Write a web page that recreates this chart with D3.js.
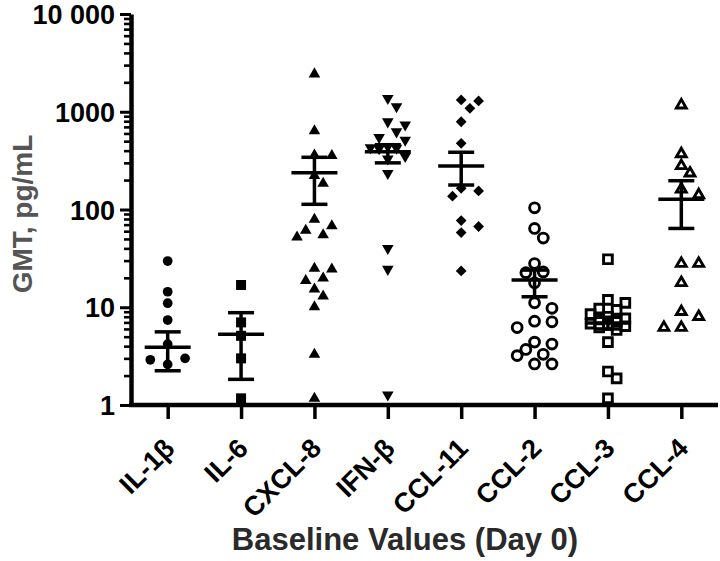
<!DOCTYPE html>
<html><head><meta charset="utf-8">
<script src="https://cdn.jsdelivr.net/npm/d3@7"></script>
<style>
html,body{margin:0;padding:0;background:#fff;}
svg{display:block;font-family:"Liberation Sans",Arial,sans-serif;font-weight:bold;}
</style></head>
<body><svg id="c" width="720" height="561"></svg>
<script>
// ---------- data ----------
const categories = ["IL-1β","IL-6","CXCL-8","IFN-β","CCL-11","CCL-2","CCL-3","CCL-4"];
const il1b  = [29.7, 14.4, 11.0, 7.4, 4.2, 2.6, 3.0, 2.9];
const il6   = [16.9, 7.0, 5.1, 3.0, 1.17];
const cxcl8 = [2430, 635, 360, 355, 222, 185, 79, 68, 61, 55, 52, 25, 24.5, 19.8, 18.7, 15.3, 13.0, 10.1, 3.3, 1.17];
const ifnb  = [1373, 1127, 791, 733, 625, 547, 514, 440, 430, 425, 420, 350, 330, 235, 40, 24.5, 1.27];
const ccl11 = [1320, 1290, 1085, 790, 476, 165, 155, 137, 77, 67, 58, 23.5];
const ccl2  = [104, 64, 51, 28, 23, 22.6, 17.8, 11.1, 9.75, 7.2, 7.1, 6.2, 4.4, 4.2, 3.7, 3.3, 3.2, 2.63, 2.63];
const ccl3  = [31, 11.9, 11.1, 9.7, 9.4, 8.5, 8.0, 7.7, 7.5, 7.2, 6.8, 6.6, 6.4, 6.2, 5.85, 4.4, 2.2, 1.87, 1.17];
const ccl4  = [1170, 370, 280, 235, 161, 141, 28, 28, 17.8, 9.0, 8.0, 6.2, 6.2];
const gmt      = [3.9, 5.3, 238, 390, 279, 19, 6.9, 127];
const semUpper = [5.6, 8.8, 342, 460, 385, 24, 7.9, 197];
const semLower = [2.24, 1.83, 113, 300, 178, 12.8, 6.0, 64];
const yTicks = [1, 10, 100, 1000, 10000];
const yTickLabels = ["1", "10", "100", "1000", "10 000"];
const series = [il1b, il6, cxcl8, ifnb, ccl11, ccl2, ccl3, ccl4];

// ---------- layout ----------
const svg = d3.select("#c");
const y = d3.scaleLog().domain([1, 10000]).range([405, 14]);
const x = d3.scalePoint().domain(categories).range([131, 718]).padding(0.5);
const FONT = '"Liberation Sans", Arial, sans-serif';

// marker definitions
const diamond = {draw(ctx, size){ const r = Math.sqrt(size/2); ctx.moveTo(0,-r); ctx.lineTo(r,0); ctx.lineTo(0,r); ctx.lineTo(-r,0); ctx.closePath(); }};
const triDown = {draw(ctx, size){ const s = Math.sqrt(size*4/Math.sqrt(3)); const h = s*Math.sqrt(3)/2; ctx.moveTo(-s/2,-h/3); ctx.lineTo(s/2,-h/3); ctx.lineTo(0,2*h/3); ctx.closePath(); }};
const markers = [
  {type: d3.symbolCircle, size: 74, fill: true},
  {type: d3.symbolSquare, size: 100, fill: true},
  {type: d3.symbolTriangle, size: 58, fill: true},
  {type: triDown, size: 58, fill: true},
  {type: diamond, size: 58, fill: true},
  {type: d3.symbolCircle, size: 76, fill: false},
  {type: d3.symbolSquare, size: 76, fill: false},
  {type: d3.symbolTriangle, size: 42, fill: false}
];

// ---------- axes ----------
const yAxisG = svg.append("g").attr("transform", "translate(131,0)")
  .call(d3.axisLeft(y).tickValues(yTicks).tickSize(11).tickSizeOuter(0).tickPadding(5)
    .tickFormat((d,i) => yTickLabels[i]));
yAxisG.select(".domain").attr("stroke", "#000").attr("stroke-width", 4.5);
yAxisG.selectAll(".tick line").attr("stroke", "#000").attr("stroke-width", 3);
yAxisG.selectAll(".tick text").attr("fill", "#000").style("font-size", "27px").style("font-weight", "bold")
  .style("font-family", FONT).attr("dy", "0.36em");

const minor = [];
[1, 10, 100, 1000].forEach(b => { for (let k = 2; k <= 9; k++) minor.push(b*k); });
const yMinorG = svg.append("g").attr("transform", "translate(131,0)")
  .call(d3.axisLeft(y).tickValues(minor).tickSize(7).tickSizeOuter(0).tickFormat(""));
yMinorG.select(".domain").remove();
yMinorG.selectAll(".tick line").attr("stroke", "#000").attr("stroke-width", 2.6);

const xAxisG = svg.append("g").attr("transform", "translate(0,405)")
  .call(d3.axisBottom(x).tickSize(14).tickSizeOuter(0));
xAxisG.select(".domain").attr("stroke", "#000").attr("stroke-width", 4.5)
  .attr("d", "M129,0H718");
xAxisG.selectAll(".tick line").attr("stroke", "#000").attr("stroke-width", 3.5);
xAxisG.selectAll(".tick text").attr("fill", "#000").attr("x", 0).attr("y", 0).attr("dy", 0)
  .attr("text-anchor", "end").attr("transform", "translate(8,45) rotate(-45)")
  .style("font-size", "27px").style("font-weight", "bold")
  .style("font-family", FONT);

// ---------- points (bounded greedy column scatter) ----------
const step = 8.7, collide = 11, offs = [0, 1, -1, 2, -2];
series.forEach((vals, ci) => {
  const cx = x(categories[ci]);
  const placed = [];
  vals.forEach(v => {
    const py = y(v);
    let best = null, bestD = -1;
    for (const o of offs) {
      const px = cx + o*step;
      const dmin = placed.length ? d3.min(placed, p => Math.hypot(p[0]-px, p[1]-py)) : Infinity;
      if (dmin >= collide) { best = px; break; }
      if (dmin > bestD) { bestD = dmin; best = px; }
    }
    placed.push([best, py]);
  });
  const m = markers[ci];
  const sym = d3.symbol().type(m.type).size(m.size);
  svg.append("g").selectAll("path").data(placed).join("path")
    .attr("d", sym)
    .attr("transform", d => `translate(${d[0]},${d[1]})`)
    .attr("fill", m.fill ? "#000" : "none")
    .attr("stroke", "#000")
    .attr("stroke-width", m.fill ? 0 : 2.9);
});

// ---------- mean and SEM ----------
const eg = svg.append("g").attr("stroke", "#000").attr("stroke-width", 3.5);
categories.forEach((c, i) => {
  const cx = x(c);
  eg.append("line").attr("x1", cx).attr("x2", cx).attr("y1", y(semLower[i])).attr("y2", y(semUpper[i]));
  eg.append("line").attr("x1", cx-23).attr("x2", cx+23).attr("y1", y(gmt[i])).attr("y2", y(gmt[i]));
  eg.append("line").attr("x1", cx-13).attr("x2", cx+13).attr("y1", y(semUpper[i])).attr("y2", y(semUpper[i]));
  eg.append("line").attr("x1", cx-13).attr("x2", cx+13).attr("y1", y(semLower[i])).attr("y2", y(semLower[i]));
});

// ---------- titles ----------
svg.append("text").attr("transform", "translate(32,214) rotate(-90)")
  .attr("text-anchor", "middle").attr("fill", "#555").style("font-size", "28px")
  .text("GMT, pg/mL");
svg.append("text").attr("x", 405).attr("y", 550).attr("text-anchor", "middle")
  .attr("fill", "#2a2a2a").style("font-size", "31px")
  .text("Baseline Values (Day 0)");
</script></body></html>
